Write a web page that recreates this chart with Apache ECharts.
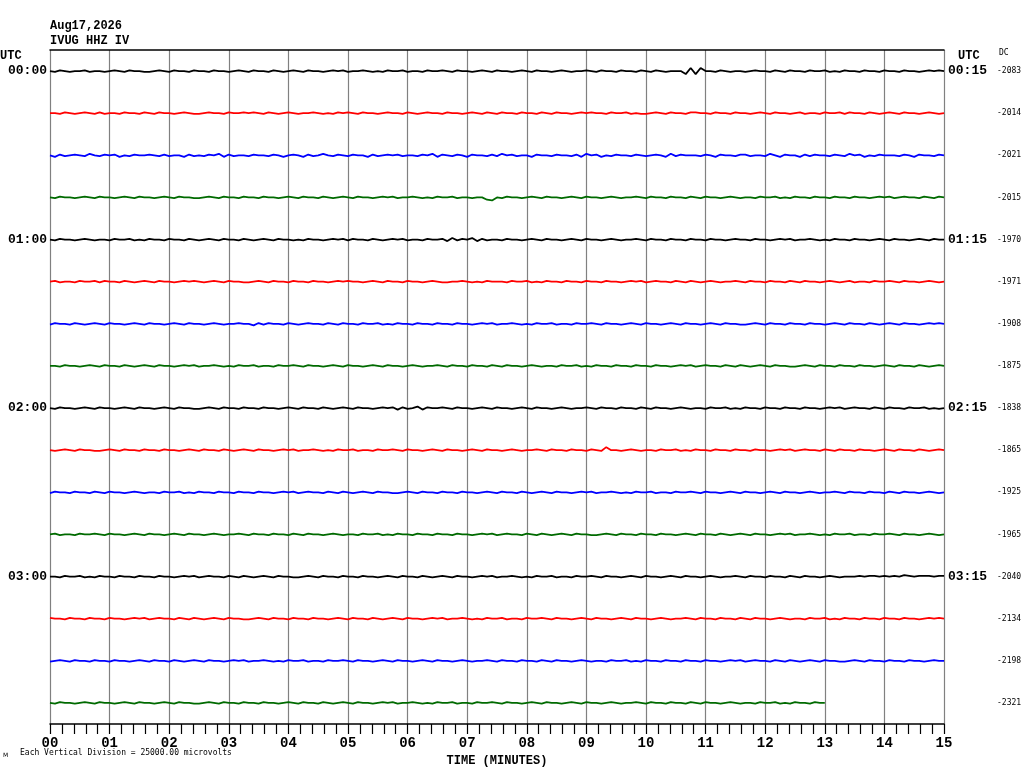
<!DOCTYPE html>
<html><head><meta charset="utf-8">
<script src="https://cdn.jsdelivr.net/npm/echarts@6/dist/echarts.min.js"></script>
<style>html,body{margin:0;padding:0;background:#fff}#c{width:1024px;height:768px}</style>
</head><body><div id="c"></div>
<script>
// ---- data ----
var traceColors = ['#000000','#ff0000','#0000ff','#006a00'];
var leftLabels  = ['00:00','','','','01:00','','','','02:00','','','','03:00','','',''];
var rightLabels = ['00:15','','','','01:15','','','','02:15','','','','03:15','','',''];
var dcLabels = ['-2083','-2014','-2021','-2015','-1970','-1971','-1908','-1875','-1838','-1865','-1925','-1965','-2040','-2134','-2198','-2321'];
var traceEndMinute = [15,15,15,15,15,15,15,15,15,15,15,15,15,15,15,13];
var divisionMicrovolts = 25000;
var microvoltsPerCode = 450;  // amplitude code 5 = baseline
var traceCodes = [
"5465455645 5456546554 4565465546 5546554565 4655465456 5465545656 4556545465 5645546556 5465545654 6554565465 5456545565 4655465546 5465455519 1955465455 4565546546 5546556454 6554655465 5465545656 5",
"5546545654 6455465546 5465545654 4565546556 5654654565 4556545465 6546554565 5465456554 6554565465 4655465546 5465545656 5546556454 4565465546 6554655465 5456546554 5645546556 4655465456 5465545654 5",
"5364565475 4656354655 6546455364 5465736455 4655465356 5364575465 4655364565 6455465736 5465365546 4756455365 5465546375 6354655465 4565374655 5465365546 6455475365 5364655465 4756354655 5465365546 5",
"5465545654 6554565465 5456546554 4565465546 5546554565 4655465456 5465545656 4556545465 5645545521 5465545654 6554565465 5456545565 4655465546 5465545654 5546556454 6554655465 5465545656 4565546546 5",
"5465545654 5546556454 6554655465 4565465546 5456546554 5465545656 4655465456 5645546556 3746573645 5465545654 6554565465 5456545565 4655465546 5546554565 5465545656 4556545465 5465545654 6554565465 5",
"5645546556 4655465456 5465545656 5456546554 4565465546 5546554565 6554565465 5465545654 4556545465 5546556454 6554655465 5465545656 4565546546 5456545565 4655465546 5465545654 5645546556 5465545654 5",
"4655465456 5465545654 6554565465 5456545565 5364655465 4565546546 5546556454 6554655465 5465545656 4556545465 5645546556 5465545654 6554565465 5456546554 4565465546 5546554565 4655465456 5465545656 5",
"5546554565 4655465456 5465545656 4556545465 5645546556 5465545654 6554565465 5456545565 4655465546 5465545654 5546556454 6554655465 5465545656 4565546546 5456546554 4565465546 5546554565 4655465456 5",
"5465545654 6554565465 5456546554 4565465546 5546554565 4655465456 5465545656 3645736556 5465545654 6554565465 5456545565 4655465546 5465545654 5546556454 6554655465 5465545656 4565546546 5546556454 5",
"5456546554 4565465546 5546554565 4655465456 5465545656 4556545465 5645546556 5465545654 6554565465 5456545565 4655465546 5495545654 5546556454 6554655465 5465545656 4565546546 5546554565 4655465456 5",
"4655465546 5465545654 5546556454 6554655465 5465545656 4565546546 5456546554 4565465546 5546554565 4655465456 5465545656 4556545465 5645546556 5465545654 6554565465 5456545565 4655465546 5465545654 5",
"5645546556 5465545654 6554565465 5456545565 4655465546 5465545654 5546556454 6554655465 5465545656 4565546546 5456546554 4565465546 5546554565 4655465456 5465545656 4556545465 5645546556 5465545654 5",
"5546556454 6554655465 5465545656 4565546546 5456546554 4565465546 5546554565 4655465456 5465545656 4556545465 5645546556 5465545654 6554565465 5456545565 4655465546 5465545654 5556566565 6576566656 6",
"6554655465 5465545656 4565546546 5456546554 4565465546 5546554565 4655465456 5465545656 4556545465 5645546556 5465545654 6554565465 5456545565 4655465546 5465545654 5546556454 6554655465 5465545656 5",
"4565465546 5546554565 4655465456 5465545656 4556545465 5645546556 5465545654 6554565465 5456545565 4655465546 5465545654 5546556454 6554655465 5465545656 4565546546 5456546554 4565465546 5546554565 5",
"5465545654 6554565465 5456546554 4565465546 5546554565 4655465456 5465545656 4556545465 5645546556 5465545654 6554565465 5456545565 4655465546 5465545654 5546556454 6554655"
];

// ---- build series ----
var nTraces = traceCodes.length;
var series = [];
for (var i = 0; i < nTraces; i++) {
  var s = traceCodes[i].replace(/\s/g, '');
  var n = s.length;
  var pts = [];
  for (var k = 0; k < n; k++) {
    var t = k * traceEndMinute[i] / (n - 1);
    var v = -i * divisionMicrovolts + (parseInt(s[k], 10) - 5) * microvoltsPerCode;
    pts.push([t, v]);
  }
  series.push({
    type: 'line', data: pts, xAxisIndex: 0, yAxisIndex: 0,
    showSymbol: false, symbol: 'none', silent: true,
    lineStyle: { color: traceColors[i % 4], width: 1.8 },
    animation: false
  });
}

var mono = '"Liberation Mono","DejaVu Sans Mono",monospace';
var chart = echarts.init(document.getElementById('c'));
chart.setOption({
  animation: false,
  backgroundColor: '#ffffff',
  grid: { left: 50, right: 80, top: 50, bottom: 44, containLabel: false, outerBoundsMode: 'none' },
  xAxis: [{
    type: 'value', min: 0, max: 15, interval: 1, position: 'bottom',
    axisLine: { show: true, onZero: false, lineStyle: { color: '#000', width: 1.5 } },
    axisTick: { show: true, length: 10, inside: false, lineStyle: { color: '#000', width: 1.2 } },
    minorTick: { show: true, splitNumber: 5, length: 10, lineStyle: { color: '#000', width: 1.2 } },
    splitLine: { show: true, lineStyle: { color: '#808080', width: 1.2 } },
    minorSplitLine: { show: false },
    axisLabel: { margin: 12, color: '#000', fontFamily: mono, fontWeight: 'bold', fontSize: 14,
      formatter: function (v) { return (v < 10 ? '0' : '') + v; } },
    name: 'TIME (MINUTES)', nameLocation: 'middle', nameGap: 28,
    nameTextStyle: { color: '#000', fontFamily: mono, fontWeight: 'bold', fontSize: 12 }
  }, {
    type: 'value', min: 0, max: 15, position: 'top',
    axisLine: { show: true, onZero: false, lineStyle: { color: '#000', width: 1.5 } },
    axisTick: { show: false }, axisLabel: { show: false }, splitLine: { show: false }
  }],
  yAxis: [{
    type: 'value', min: -15.5 * divisionMicrovolts, max: 0.5 * divisionMicrovolts, show: false
  }, {
    type: 'category', data: leftLabels, inverse: true, position: 'left',
    axisLine: { show: false }, axisTick: { show: false }, splitLine: { show: false },
    axisLabel: { interval: 0, margin: 3, color: '#000', fontFamily: mono, fontWeight: 'bold', fontSize: 13 }
  }, {
    type: 'category', data: rightLabels, inverse: true, position: 'right',
    axisLine: { show: false }, axisTick: { show: false }, splitLine: { show: false },
    axisLabel: { interval: 0, margin: 4, color: '#000', fontFamily: mono, fontWeight: 'bold', fontSize: 13 }
  }, {
    type: 'category', data: dcLabels, inverse: true, position: 'right', offset: 50,
    axisLine: { show: false }, axisTick: { show: false }, splitLine: { show: false },
    axisLabel: { interval: 0, margin: 3, color: '#000', fontFamily: '"DejaVu Sans Mono",monospace', fontSize: 8 }
  }],
  graphic: [
    { type: 'text', left: 50, top: 20, style: { text: 'Aug17,2026', fill: '#000', font: 'bold 12px ' + mono } },
    { type: 'text', left: 50, top: 35, style: { text: 'IVUG HHZ IV', fill: '#000', font: 'bold 12px ' + mono } },
    { type: 'text', left: 0, top: 50, style: { text: 'UTC', fill: '#000', font: 'bold 12px ' + mono } },
    { type: 'text', left: 958, top: 50, style: { text: 'UTC', fill: '#000', font: 'bold 12px ' + mono } },
    { type: 'text', left: 999, top: 49, style: { text: 'DC', fill: '#000', font: '8px "DejaVu Sans Mono",monospace' } },
    { type: 'text', left: 3, top: 752, style: { text: 'M', fill: '#000', font: '6px "DejaVu Sans",sans-serif' } },
    { type: 'text', left: 20, top: 749, style: { text: 'Each Vertical Division = 25000.00 microvolts', fill: '#000', font: '8px "DejaVu Sans Mono",monospace' } }
  ],
  series: series
});
</script>
</body></html>
